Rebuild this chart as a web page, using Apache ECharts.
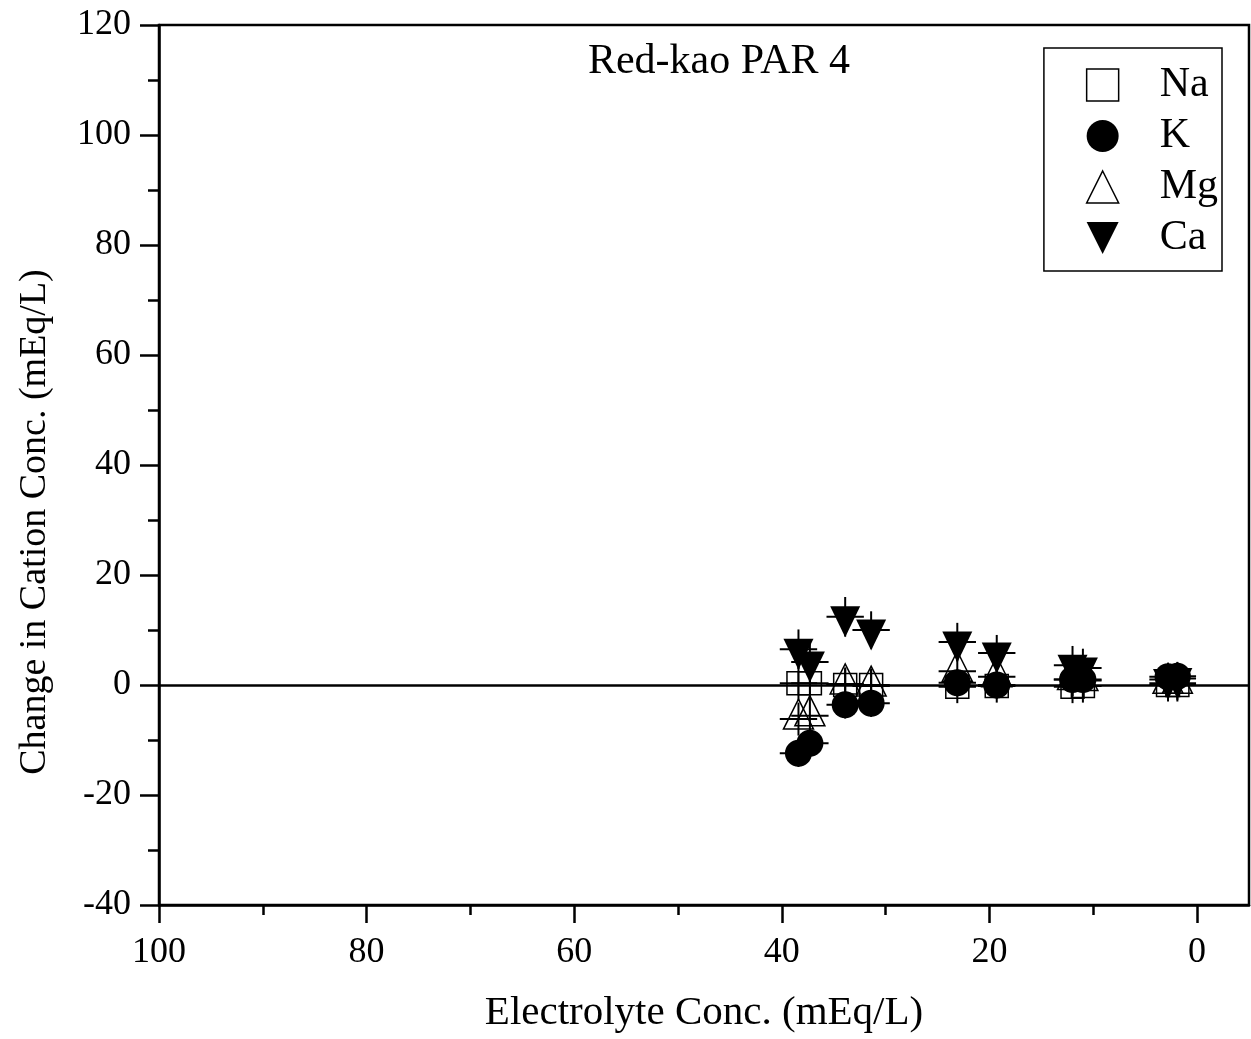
<!DOCTYPE html>
<html><head><meta charset="utf-8">
<script src="https://cdn.jsdelivr.net/npm/echarts@6/dist/echarts.min.js"></script>
<style>html,body{margin:0;padding:0;background:#fff}#c{width:1251px;height:1039px}</style>
</head><body><div id="c"></div>
<script>
// Electrolyte concentration (x, mEq/L)
const xVals = [38.4, 37.3, 33.9, 31.4, 23.1, 19.3, 12.0, 11.0, 2.8, 1.9];
// Change in cation concentration (mEq/L)
const naVals = [0.3, 0.3, 0.0, 0.0, -0.3, -0.2, -0.3, -0.2, 0.0, 0.0];
const kVals  = [-12.4, -10.6, -3.6, -3.3, 0.4, 0.0, 1.0, 1.0, 1.5, 1.6];
const mgVals = [-6.2, -5.6, 0.2, -0.2, 2.5, 1.5, 1.0, 0.8, 0.3, 0.3];
const caVals = [6.5, 4.2, 12.4, 10.0, 7.8, 5.8, 3.6, 3.1, 1.0, 1.2];
// error bars
const xErr  = [1.8, 1.8, 1.8, 1.8, 1.8, 1.8, 1.8, 1.8, 1.8, 1.8];
const naErr = [3.0, 3.0, 3.0, 3.0, 3.0, 3.0, 3.0, 3.0, 3.0, 3.0];
const kErr  = [2.5, 2.5, 2.5, 2.5, 2.5, 2.5, 2.5, 2.5, 2.5, 2.5];
const mgErr = [3.0, 3.0, 3.0, 3.0, 3.0, 3.0, 3.0, 3.0, 3.0, 3.0];
const caErr = [3.6, 3.6, 3.6, 3.4, 3.5, 3.3, 3.5, 3.5, 3.0, 3.0];
const xMajorTicks = [0, 20, 40, 60, 80, 100];
const xMinorTicks = [10, 30, 50, 70, 90];
const seriesNames = ['Na', 'K', 'Mg', 'Ca'];
const titleText = 'Red-kao PAR 4';

const FONT = 'Liberation Serif';
const downTri = 'path://M0,0L2,0L1,2Z';
const upTri = 'path://M1,0L2,2L0,2Z';

function pts(vals, err) {
  return xVals.map((x, i) => [x, vals[i], xErr[i], err[i]]);
}
function errSeries(name, vals, err, z) {
  return {
    type: 'custom', name: name + ' err', z: z, silent: true,
    data: pts(vals, err),
    renderItem: function (params, api) {
      const x = api.value(0), y = api.value(1), xe = api.value(2), ye = api.value(3);
      const l = api.coord([x + xe, y]), r = api.coord([x - xe, y]);
      const t = api.coord([x, y + ye]), b = api.coord([x, y - ye]);
      const st = { stroke: '#000', lineWidth: 2 };
      return { type: 'group', children: [
        { type: 'line', shape: { x1: l[0], y1: l[1], x2: r[0], y2: r[1] }, style: st },
        { type: 'line', shape: { x1: t[0], y1: t[1], x2: b[0], y2: b[1] }, style: st }
      ]};
    }
  };
}

const chart = echarts.init(document.getElementById('c'), null, { renderer: 'canvas' });
const axisCommon = {
  axisLine: { show: true, onZero: false, lineStyle: { color: '#000', width: 2.5 } },
  splitLine: { show: false }
};
chart.setOption({
  animation: false,
  backgroundColor: '#fff',
  textStyle: { fontFamily: FONT, color: '#000' },
  title: {
    text: titleText, left: 714, top: 36, textAlign: 'center',
    textStyle: { fontFamily: FONT, fontSize: 42, fontWeight: 'normal', color: '#000' }
  },
  grid: { left: 159, top: 25, right: 2, bottom: 134, show: true, borderColor: '#000', borderWidth: 2.5, backgroundColor: 'transparent' },
  legend: {
    orient: 'vertical', right: 29, top: 48,
    padding: [16, 4, 12, 42],
    itemGap: 9, itemWidth: 32, itemHeight: 32,
    backgroundColor: '#fff', borderColor: '#000', borderWidth: 1.5,
    textStyle: { fontFamily: FONT, fontSize: 42, color: '#000', padding: [0, 0, 0, 36] },
    data: [
      { name: seriesNames[0], icon: 'rect', itemStyle: { color: 'transparent', borderColor: '#000', borderWidth: 1.5 } },
      { name: seriesNames[1], icon: 'circle' },
      { name: seriesNames[2], icon: upTri, itemStyle: { color: 'transparent', borderColor: '#000', borderWidth: 1.5 } },
      { name: seriesNames[3], icon: downTri }
    ]
  },
  xAxis: [{
    type: 'value', min: -5, max: 100, inverse: true, position: 'bottom',
    name: 'Electrolyte Conc. (mEq/L)', nameLocation: 'middle', nameGap: 88,
    nameTextStyle: { fontFamily: FONT, fontSize: 41, color: '#000' },
    axisTick: { show: true, inside: false, length: 18, customValues: xMajorTicks, lineStyle: { color: '#000', width: 2.5 } },
    axisLabel: { customValues: xMajorTicks, margin: 30, fontFamily: FONT, fontSize: 36, color: '#000' },
    ...axisCommon
  }, {
    type: 'value', min: -5, max: 100, inverse: true, position: 'bottom',
    axisLine: { show: false, onZero: false }, splitLine: { show: false },
    axisTick: { show: true, length: 10, customValues: xMinorTicks, lineStyle: { color: '#000', width: 2.5 } },
    axisLabel: { show: false }
  }],
  yAxis: {
    type: 'value', min: -40, max: 120, interval: 20,
    name: 'Change in Cation Conc. (mEq/L)', nameLocation: 'middle', nameGap: 105,
    nameTextStyle: { fontFamily: FONT, fontSize: 38, color: '#000', padding: [0, 114, 0, 0] },
    axisTick: { show: true, length: 19, lineStyle: { color: '#000', width: 2.5 } },
    minorTick: { show: true, splitNumber: 2, length: 11, lineStyle: { color: '#000', width: 2.5 } },
    axisLabel: { margin: 28, fontFamily: FONT, fontSize: 36, color: '#000' },
    ...axisCommon
  },
  series: [
    errSeries('Na', naVals, naErr, 1),
    {
      type: 'scatter', name: 'Na', z: 2, data: xVals.map((x, i) => [x, naVals[i]]),
      symbol: 'rect', symbolSize: 23,
      itemStyle: { color: 'transparent', borderColor: '#000', borderWidth: 1.5, opacity: 1 },
      markLine: {
        silent: true, symbol: 'none', label: { show: false },
        lineStyle: { color: '#000', width: 2.5, type: 'solid' },
        data: [{ yAxis: 0 }]
      }
    },
    errSeries('K', kVals, kErr, 3),
    {
      type: 'scatter', name: 'K', z: 4, data: xVals.map((x, i) => [x, kVals[i]]),
      symbol: 'circle', symbolSize: 27,
      itemStyle: { color: '#000', opacity: 1 }
    },
    errSeries('Mg', mgVals, mgErr, 5),
    {
      type: 'scatter', name: 'Mg', z: 6, data: xVals.map((x, i) => [x, mgVals[i]]),
      symbol: upTri, symbolSize: [30, 30], symbolOffset: [0, -5],
      itemStyle: { color: 'transparent', borderColor: '#000', borderWidth: 1.5, opacity: 1 }
    },
    errSeries('Ca', caVals, caErr, 7),
    {
      type: 'scatter', name: 'Ca', z: 8, data: xVals.map((x, i) => [x, caVals[i]]),
      symbol: downTri, symbolSize: [30, 31], symbolOffset: [0, 5],
      itemStyle: { color: '#000', opacity: 1 }
    }
  ]
});
</script></body></html>
